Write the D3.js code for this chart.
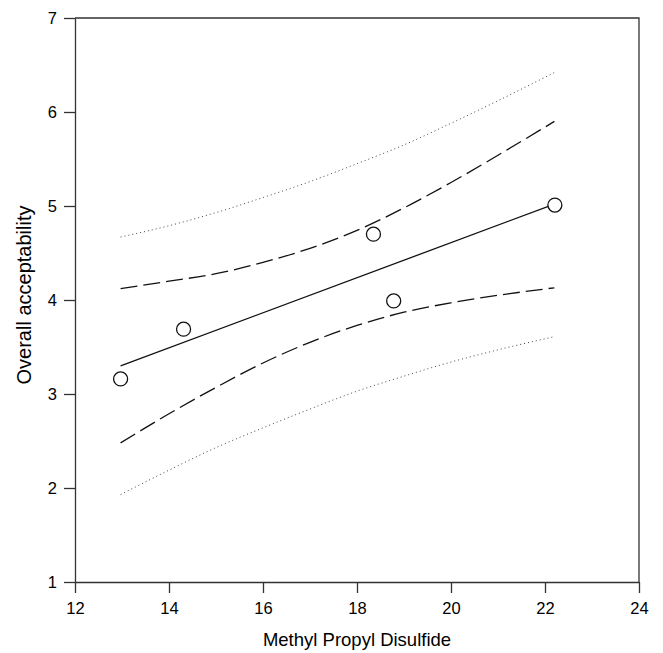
<!DOCTYPE html>
<html lang="en">
  <head>
    <meta charset="UTF-8" />
    <title>Overall acceptability vs Methyl Propyl Disulfide</title>
    <script src="https://d3js.org/d3.v7.min.js"></script>
    <style>
      body { margin: 0; background: #fff; }
      svg text { font-family: "Liberation Sans", Arial, sans-serif; fill: #000; }
      .axis path, .axis line { stroke: #333; stroke-width: 1.3; }
    </style>
  </head>
  <body></body>
  <script type="text/javascript">
    var width = 663,
      height = 653;
    var margin = { top: 18, right: 24, bottom: 71, left: 75 };

    // observed points
    var pointX = [12.97, 14.31, 18.35, 18.78, 22.21];
    var pointY = [3.16, 3.69, 4.70, 3.99, 5.01];

    // fitted line end points
    var fitX = [12.97, 22.2];
    var fitY = [3.30, 5.02];

    // bands, read along the x positions below
    var bandX = [12.97, 14, 15, 16, 17, 18, 19, 20, 21, 22.2];
    var confUpper = [4.12, 4.20, 4.28, 4.40, 4.55, 4.74, 4.98, 5.25, 5.54, 5.90];
    var confLower = [2.48, 2.79, 3.07, 3.33, 3.55, 3.73, 3.87, 3.97, 4.05, 4.13];
    var predUpper = [4.67, 4.79, 4.93, 5.09, 5.26, 5.45, 5.65, 5.88, 6.12, 6.42];
    var predLower = [1.93, 2.19, 2.43, 2.64, 2.84, 3.03, 3.19, 3.34, 3.47, 3.61];

    var xTicks = [12, 14, 16, 18, 20, 22, 24];
    var yTicks = [1, 2, 3, 4, 5, 6, 7];

    var x = d3.scaleLinear().domain([12, 24]).range([margin.left, width - margin.right]);
    var y = d3.scaleLinear().domain([1, 7]).range([height - margin.bottom, margin.top]);

    var svg = d3.select('body').append('svg')
      .attr('width', width)
      .attr('height', height);

    // frame (top and right)
    svg.append('path')
      .attr('d', `M${x(12)},${y(7)}H${x(24)}V${y(1)}`)
      .attr('fill', 'none')
      .attr('stroke', '#333')
      .attr('stroke-width', 1.3);

    svg.append('g')
      .attr('class', 'axis')
      .attr('transform', `translate(0,${y(1)})`)
      .call(d3.axisBottom(x).tickValues(xTicks).tickFormat(d3.format('d'))
        .tickSize(11).tickSizeOuter(0).tickPadding(9))
      .call(g => g.selectAll('text').style('font-size', '16.5px'));

    svg.append('g')
      .attr('class', 'axis')
      .attr('transform', `translate(${x(12)},0)`)
      .call(d3.axisLeft(y).tickValues(yTicks).tickFormat(d3.format('d'))
        .tickSize(11).tickSizeOuter(0).tickPadding(7))
      .call(g => g.selectAll('text').style('font-size', '16.5px'));

    function series(xs, vals) {
      return xs.map((d, i) => ({ x: d, y: vals[i] }));
    }
    var curve = d3.line()
      .x(d => x(d.x))
      .y(d => y(d.y))
      .curve(d3.curveMonotoneX);
    var straight = d3.line()
      .x(d => x(d.x))
      .y(d => y(d.y));

    // prediction band (dotted)
    [predUpper, predLower].forEach(v => {
      svg.append('path')
        .attr('d', curve(series(bandX, v)))
        .attr('fill', 'none')
        .attr('stroke', '#444')
        .attr('stroke-width', 1)
        .attr('stroke-dasharray', '1,3');
    });

    // confidence band (dashed)
    [confUpper, confLower].forEach(v => {
      svg.append('path')
        .attr('d', curve(series(bandX, v)))
        .attr('fill', 'none')
        .attr('stroke', '#111')
        .attr('stroke-width', 1.3)
        .attr('stroke-dasharray', '17,6');
    });

    // fitted line
    svg.append('path')
      .attr('d', straight(series(fitX, fitY)))
      .attr('fill', 'none')
      .attr('stroke', '#111')
      .attr('stroke-width', 1.3);

    svg.selectAll('circle.pt')
      .data(series(pointX, pointY))
      .join('circle')
      .attr('class', 'pt')
      .attr('cx', d => x(d.x))
      .attr('cy', d => y(d.y))
      .attr('r', 7)
      .attr('fill', '#fff')
      .attr('stroke', '#111')
      .attr('stroke-width', 1.3);

    svg.append('text')
      .attr('x', (x(12) + x(24)) / 2)
      .attr('y', 646)
      .attr('text-anchor', 'middle')
      .style('font-size', '18.5px')
      .text('Methyl Propyl Disulfide');

    svg.append('text')
      .attr('transform', `translate(31,295) rotate(-90)`)
      .attr('text-anchor', 'middle')
      .style('font-size', '20px')
      .text('Overall acceptability');
  </script>
</html>
